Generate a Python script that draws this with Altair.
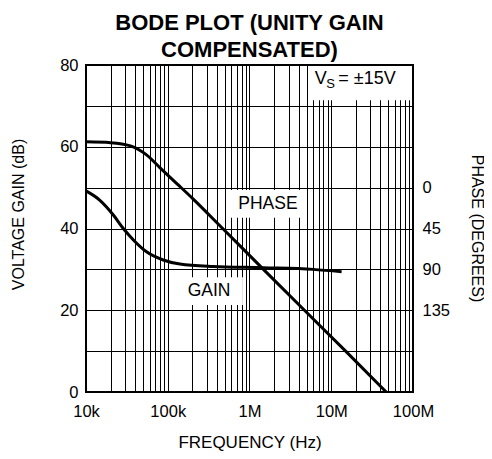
import altair as alt
import pandas as pd

FONT = "Liberation Sans"

# ---- data ----
upper_freq = [1e4, 2e4, 3.5e4, 5.5e4, 8e4, 1.29e5, 2.05e5, 4.7e5, 1.48e6, 4.7e6, 1.5e7, 4.7e7]
upper_db = [61.2, 61.0, 60.2, 58.0, 54.9, 51.0, 47.2, 40.0, 30.0, 20.0, 10.0, 0.0]

lower_freq = [1e4, 1.48e4, 2.16e4, 2.86e4, 3.8e4, 5.5e4, 8.8e4, 1.41e5, 3.6e5, 1.48e6, 6e6, 1.34e7]
lower_db = [49.2, 46.9, 43.3, 40.0, 37.2, 34.3, 32.3, 31.3, 30.7, 30.4, 30.0, 29.4]

decades = [1e4, 1e5, 1e6, 1e7, 1e8]
decade_labels = ["10k", "100k", "1M", "10M", "100M"]
multipliers = [1, 2, 3, 4, 5, 6, 7, 8, 9]
db_ticks = [0, 10, 20, 30, 40, 50, 60, 70, 80]
phase_ticks = [0, 45, 90, 135]
phase_domain = [225, -135]   # phase value at 0 dB and at 80 dB

x_domain = [1e4, 1e8]
y_domain = [0, 80]

label_text = ["PHASE", "GAIN"]
label_freq = [1.68e6, 3.2e5]
label_db = [45.9, 24.8]

box_x1 = [5.31e5, 1.63e5, 5.2e6]
box_x2 = [5.05e6, 8.3e5, 1e8]
box_y1 = [42.6, 21.3, 71.4]
box_y2 = [49.4, 28.1, 80]

vs_text = ["V", "S", "= \u00b115V"]
vs_freq = [6.3e6, 8.7e6, 1.22e7]
vs_db = [76.6, 75.4, 76.6]
vs_size = [18, 13, 18]

# ---- tables ----
curves = pd.DataFrame({
    "freq": upper_freq + lower_freq,
    "db": upper_db + lower_db,
    "series": ["upper"] * len(upper_freq) + ["lower"] * len(lower_freq),
})
labels = pd.DataFrame({"text": label_text, "freq": label_freq, "db": label_db})
boxes = pd.DataFrame({"freq": box_x1, "freq2": box_x2, "db": box_y1, "db2": box_y2})
vs = pd.DataFrame({"text": vs_text, "freq": vs_freq, "db": vs_db, "size": vs_size})
frame = pd.DataFrame({"freq": [x_domain[0]], "freq2": [x_domain[1]],
                      "db": [y_domain[0]], "db2": [y_domain[1]]})
phase = pd.DataFrame({"phase": phase_ticks})

grid_ticks = [m * d for d in decades[:-1] for m in multipliers] + [decades[-1]]

label_expr = "''"
for v, t in reversed(list(zip(decades, decade_labels))):
    label_expr = f"abs(datum.value - {v}) < 1 ? '{t}' : ({label_expr})"

x_scale = alt.Scale(type="log", domain=x_domain, nice=False)
y_scale = alt.Scale(domain=y_domain, nice=False, zero=False)

x_axis = alt.Axis(
    values=grid_ticks, labelExpr=label_expr, grid=True, ticks=False, domain=False,
    title="FREQUENCY (Hz)", labelPadding=11, titlePadding=15,
    labelFontSize=16.5, titleFontSize=17, labelFlush=False, labelOverlap=False,
)
y_axis = alt.Axis(
    values=db_ticks, labelExpr="datum.value % 20 == 0 ? datum.label : ''",
    grid=True, ticks=False, domain=False, title="VOLTAGE GAIN (dB)",
    labelPadding=8, labelFontSize=16.5, titleFontSize=16,
    titleX=-68, titleY=149, titleBaseline="middle", titleAngle=-90,
)

X = alt.X("freq:Q", scale=x_scale, axis=x_axis, title="FREQUENCY (Hz)")
Y = alt.Y("db:Q", scale=y_scale, axis=y_axis, title="VOLTAGE GAIN (dB)")

rects = alt.Chart(boxes).mark_rect(fill="white", strokeWidth=0).encode(
    x=X, x2="freq2:Q", y=Y, y2="db2:Q",
)

lines = alt.Chart(curves).mark_line(
    color="black", strokeWidth=3, interpolate="monotone"
).encode(x=X, y=Y, detail="series:N")

label_layer = alt.Chart(labels).mark_text(
    font=FONT, fontSize=17.5, color="black", align="center", baseline="middle"
).encode(x=X, y=Y, text="text:N")

vs_layer = alt.Chart(vs).mark_text(
    font=FONT, color="black", align="left", baseline="middle"
).encode(
    x=X, y=Y, text="text:N",
    size=alt.Size("size:Q", scale=None, legend=None),
)

frame_layer = alt.Chart(frame).mark_rect(
    fillOpacity=0, stroke="black", strokeWidth=2
).encode(x=X, x2="freq2:Q", y=Y, y2="db2:Q")

main = alt.layer(rects, lines, label_layer, vs_layer, frame_layer)

phase_layer = alt.Chart(phase).mark_point(opacity=0).encode(
    x=alt.value(0),
    y=alt.Y(
        "phase:Q",
        scale=alt.Scale(domain=phase_domain, nice=False, zero=False),
        axis=alt.Axis(
            orient="right", values=phase_ticks, grid=False, ticks=False, domain=False,
            title="PHASE (DEGREES)", labelPadding=9, labelFontSize=16.5, titleFontSize=16,
            titleX=63, titleY=163, titleBaseline="middle", titleAngle=90,
        ),
    ),
)

chart = alt.layer(main, phase_layer).resolve_scale(y="independent").properties(
    width=327, height=327,
    autosize=alt.AutoSizeParams(type="none"),
    padding={"left": 78, "top": 57, "right": 71, "bottom": 59},
    title=alt.TitleParams(
        ["BODE PLOT (UNITY GAIN", "COMPENSATED)"], anchor="middle", frame="group",
        font=FONT, fontSize=22, fontWeight="bold", color="black", lineHeight=27, offset=-5,
    ),
).configure_view(stroke=None).configure_axis(
    labelFont=FONT, titleFont=FONT, labelColor="black", titleColor="black",
    titleFontWeight="normal", gridColor="black", gridOpacity=1, gridWidth=1,
)

chart.save("out.html", embed_options={"renderer": "svg", "actions": False})
